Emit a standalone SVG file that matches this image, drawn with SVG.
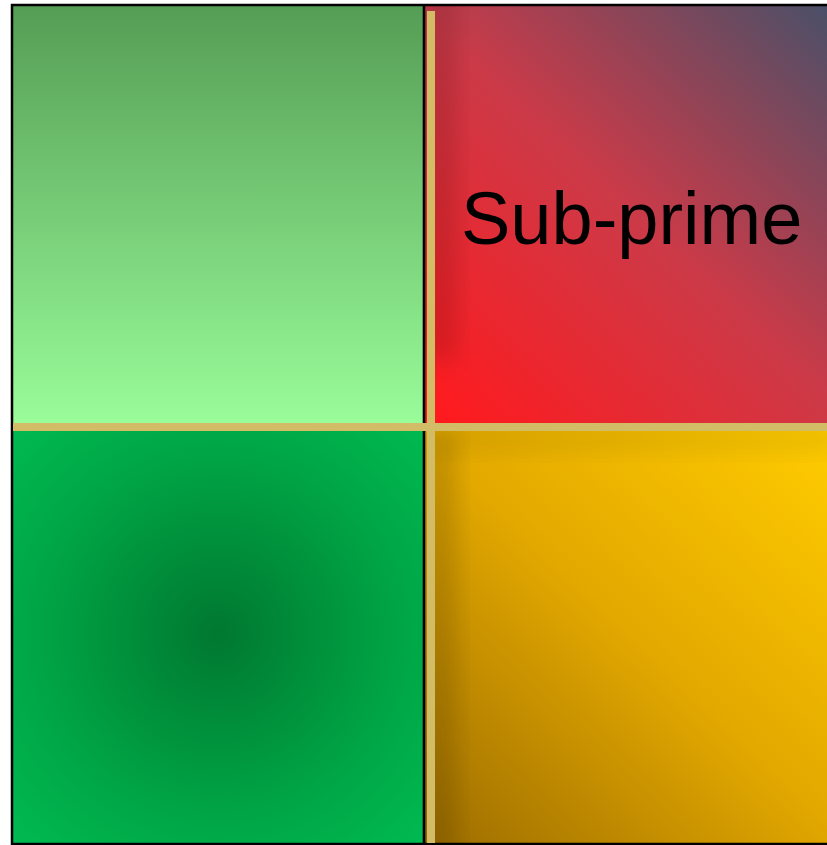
<svg xmlns="http://www.w3.org/2000/svg" width="827" height="845" viewBox="0 0 827 845">
<style>
.lbl{font-family:"Liberation Sans",Arial,sans-serif;font-size:74px;fill:#000}
.div{fill:#d3bc66}
</style>
<defs>
<linearGradient id="gTL" x1="0" y1="0" x2="0" y2="1">
<stop offset="0" stop-color="#559d55"/>
<stop offset="1" stop-color="#99fc99"/>
</linearGradient>
<linearGradient id="gTR" gradientUnits="userSpaceOnUse" x1="440" y1="420" x2="827" y2="6">
<stop offset="0" stop-color="#ff1a1e"/>
<stop offset="0.5" stop-color="#cc3a48"/>
<stop offset="1" stop-color="#4a5068"/>
</linearGradient>
<radialGradient id="gBL" gradientUnits="userSpaceOnUse" cx="218" cy="634" r="300">
<stop offset="0" stop-color="#007830"/>
<stop offset="0.6" stop-color="#00a545"/>
<stop offset="1" stop-color="#00bb52"/>
</radialGradient>
<linearGradient id="gBR" gradientUnits="userSpaceOnUse" x1="435" y1="845" x2="827" y2="430">
<stop offset="0" stop-color="#9e6e00"/>
<stop offset="0.5" stop-color="#e2a800"/>
<stop offset="1" stop-color="#ffcc00"/>
</linearGradient>
<filter id="blur" x="-50%" y="-50%" width="200%" height="200%">
<feGaussianBlur stdDeviation="12"/>
</filter>
<clipPath id="cTR"><rect x="425" y="6" width="402" height="417"/></clipPath>
<clipPath id="cBR"><rect x="425" y="431" width="402" height="413"/></clipPath>
</defs>
<g id="top-left">
<rect x="12" y="5" width="412" height="418" fill="url(#gTL)"/>
</g>
<g id="top-right">
<rect x="424" y="5" width="403" height="418" fill="url(#gTR)"/>
<g clip-path="url(#cTR)">
<rect x="425" y="-20" width="30" height="380" fill="#000" opacity="0.15" filter="url(#blur)"/>
</g>
<text class="lbl" x="461" y="244">Sub-prime</text>
</g>
<g id="bottom-left">
<rect x="12" y="423" width="412" height="421" fill="url(#gBL)"/>
</g>
<g id="bottom-right">
<rect x="424" y="423" width="403" height="421" fill="url(#gBR)"/>
<g clip-path="url(#cBR)">
<rect x="425" y="431" width="30" height="430" fill="#000" opacity="0.15" filter="url(#blur)"/>
<rect x="425" y="425" width="420" height="25" fill="#000" opacity="0.08" filter="url(#blur)"/>
</g>
</g>
<g id="connectors">
<rect x="12" y="5" width="830" height="839" fill="none" stroke="#000" stroke-width="2.5"/>
<line x1="424" y1="5" x2="424" y2="845" stroke="#000" stroke-width="2.6"/>
<rect class="div" x="427" y="11" width="8" height="832"/>
<rect class="div" x="13" y="423" width="814" height="8"/>
</g>
</svg>
